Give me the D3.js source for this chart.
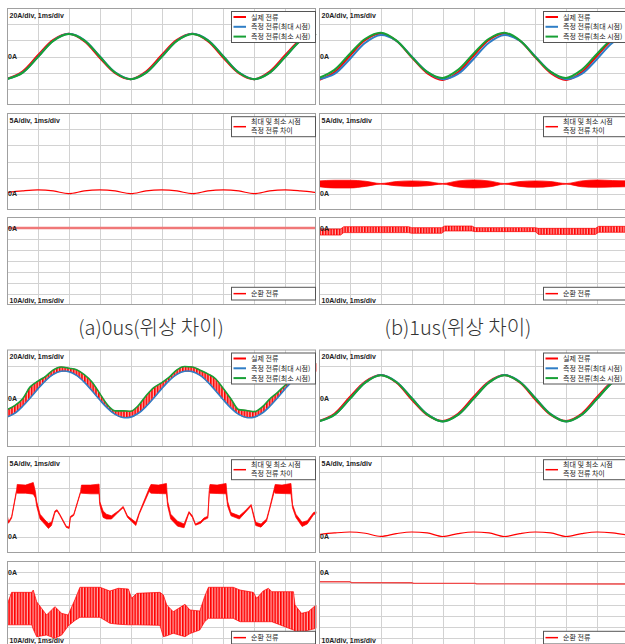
<!DOCTYPE html>
<html>
<head>
<meta charset="utf-8">
<script src="https://cdn.jsdelivr.net/npm/d3@7"></script>
<style>
body { margin: 0; background: #fff; }
svg { display: block; }
.grid line { stroke: #d2d2d2; stroke-width: 1; shape-rendering: crispEdges; }
.grid path { display: none; }
.lab { font-family: "Liberation Sans", Arial, sans-serif; font-weight: bold; font-size: 7px; fill: #222; }
.leg { font-family: "Noto Sans CJK KR", sans-serif; font-size: 7px; fill: #222; }
.cap { font-family: "Noto Sans CJK KR", sans-serif; font-size: 20px; font-weight: 300; fill: #333; }
</style>
</head>
<body>
<svg id="chart" width="625" height="644"></svg>
<script>
// ---- labels ----
var legendTop = ["실제 전류", "측정 전류(최대 시점)", "측정 전류(최소 시점)"];
var legendMid = ["최대 및 최소 시점", "측정 전류 차이"];
var legendBot = ["순환 전류"];
var scaleLabels = ["20A/div, 1ms/div", "5A/div, 1ms/div", "10A/div, 1ms/div"];
var captions = ["(a)0us(위상 차이)", "(b)1us(위상 차이)"];

// ---- time axes (ms) ----
var tHalf = [0, 0.5, 1, 1.5, 2, 2.5, 3, 3.5, 4, 4.5, 5, 5.5, 6, 6.5, 7, 7.5, 8, 8.5, 9, 9.5, 10];
var tQuarter = [0, 0.25, 0.5, 0.75, 1, 1.25, 1.5, 1.75, 2, 2.25, 2.5, 2.75, 3, 3.25, 3.5, 3.75, 4,
  4.25, 4.5, 4.75, 5, 5.25, 5.5, 5.75, 6, 6.25, 6.5, 6.75, 7, 7.25, 7.5, 7.75, 8,
  8.25, 8.5, 8.75, 9, 9.25, 9.5, 9.75, 10];

// ---- (a) 0us ----
var aTopRed   = [-27.5, -18.5, 1.5, 20.5, 28, 19, -1.5, -20.5, -28, -18.5, 1.5, 20.5, 28, 19, -1.5, -20.5, -28, -18.5, 1.5, 20.5, 28];
var aTopBlue  = [-28, -20, -0.5, 19.5, 28, 20.3, 0.3, -19.5, -28, -20, -0.5, 19.5, 28, 20.3, 0.3, -19.5, -28, -20, -0.5, 19.5, 28];
var aTopGreen = [-28, -20.2, -0.8, 19.3, 27.8, 20, 0, -19.8, -28, -20.2, -0.8, 19.3, 27.8, 20, 0, -19.8, -28, -20.2, -0.8, 19.3, 27.8];
var aMid      = [0.4, 0.9, 1.2, 0.9, 0.05, 0.9, 1.2, 0.9, 0.05, 0.9, 1.2, 0.9, 0.05, 0.9, 1.2, 0.9, 0.05, 0.9, 1.2, 0.9, 0.4];
var aBotT = [0, 10];
var aBot  = [0, 0];

// ---- (b) 1us ----
var bTopRed   = [-29, -19.5, 1, 20.5, 28.3, 19.5, -1, -20.5, -29, -19.5, 1, 20.5, 28.3, 19.5, -1, -20.5, -29, -19.5, 1, 20.5, 28.3];
var bTopBlue  = [-28, -21.5, -3, 17, 26.5, 19.5, 0, -19, -28, -21.5, -3, 17, 26.5, 19.5, 0, -19, -28, -21.5, -3, 17, 26.5];
var bTopGreen = [-26.5, -16.5, 3.5, 22, 29.5, 20, -0.5, -19, -26.5, -16.5, 3.5, 22, 29.5, 20, -0.5, -19, -26.5, -16.5, 3.5, 22, 29.5];
var bMidHi = [4.0, 4.2, 4.2, 3.9, 3.2, 3.8, 4.0, 3.8, 3.2, 4.0, 4.3, 4.0, 3.2, 3.8, 4.0, 3.8, 3.2, 4.0, 4.3, 4.1, 4.0];
var bMidLo = [2.2, 1.8, 1.8, 2.3, 3.0, 2.5, 2.3, 2.5, 3.0, 2.1, 1.8, 2.1, 3.0, 2.3, 2.0, 2.3, 3.0, 2.2, 2.0, 2.1, 2.2];
var bBotT  = [0, 0.7, 0.8, 2.9, 3.0, 3.97, 4.07, 4.95, 5.05, 7.0, 7.1, 8.95, 9.05, 10];
var bBotHi = [-0.9, -0.9, 1.2, 1.2, 0.3, 0.3, 1.8, 1.8, 0.3, 0.3, -0.3, -0.3, 1.5, 1.5];
var bBotLo = [-6.4, -6.4, -4.2, -4.2, -4.8, -4.8, -2.7, -2.7, -3.3, -3.3, -5.8, -5.8, -3.9, -3.9];

// ---- (c) ----
var cTopBlue  = [-23.2, -18.5, -10.2, 0.3, 11.5, 21.7, 29.4, 33.2, 32.8, 28.1, 19.8, 9.3, -1.9, -12.1, -19.8, -23.6,
  -23.2, -18.5, -10.2, 0.3, 11.5, 21.7, 29.4, 33.2, 32.8, 28.1, 19.8, 9.3, -1.9, -12.1, -19.8, -23.6,
  -23.2, -18.5, -10.2, 0.3, 11.5, 21.7, 29.4, 33.2, 32.8];
var cTopGreen = [-14, -9, -1, 14, 21, 27, 35, 38.5, 37, 35, 29, 20, 6, -8, -15.5, -15.5,
  -16, -9, 3, 13, 19, 26, 35, 39, 38.5, 34.5, 30, 24, 12, -1, -14, -15,
  -16.5, -11, -1, 7, 16, 24, 31, 38, 43];
var cMidT  = [0, 0.05, 0.15, 0.31, 0.33, 0.6, 0.85, 0.92, 0.96, 1.07, 1.23, 1.34, 1.44, 1.55, 1.62, 1.71, 1.92, 2.01, 2.05, 2.16,
  2.38, 2.41, 2.7, 2.98, 3.0, 3.11, 3.22, 3.38, 3.6, 3.76, 3.9, 4.17, 4.28, 4.6, 4.66, 4.9, 5.16, 5.2, 5.3, 5.52,
  5.73, 5.89, 6.0, 6.1, 6.27, 6.37, 6.5, 6.55, 6.57, 6.8, 7.09, 7.14, 7.25, 7.52, 7.7, 7.9, 8.05, 8.22, 8.4, 8.5,
  8.65, 8.68, 8.9, 9.19, 9.24, 9.35, 9.55, 9.72, 9.92, 10];
var cMidHi = [7, 4.7, 6.3, 14.5, 16.2, 16, 16.8, 14, 11, 7, 5.2, 4.2, 4.5, 8, 8.4, 7, 3.3, 3, 6.3, 7,
  14, 16, 16, 16.3, 11, 8, 7, 6.5, 8, 9.4, 6.5, 4.5, 7.5, 15, 16.2, 16, 16.5, 11, 7, 4.8,
  4, 7.8, 6.5, 4, 4.8, 5.8, 6.4, 15, 16.2, 16, 16.5, 11, 7.5, 6.5, 8, 10, 4.5, 4, 5.5, 9,
  15, 16.2, 16, 16.5, 10, 7, 4.5, 5, 7.5, 7.8];
var cMidLo = [6, 4.2, 5.8, 14, 13.5, 13.5, 13.2, 12, 9.5, 5.5, 3.8, 2.6, 3.5, 7.5, 8, 6.6, 2.9, 2.6, 5.9, 6.6,
  13.6, 13.5, 13.3, 13.3, 10, 6, 5.5, 5.5, 7.6, 9, 6, 3.5, 7, 14, 13.5, 13.4, 13.3, 9.5, 5.5, 3.3,
  2.8, 7.4, 6, 3.6, 4.2, 5.2, 5.8, 14, 13.5, 13.4, 13.3, 9.5, 6.5, 5.5, 7.4, 9.5, 3.5, 3, 4.8, 8.5,
  14, 13.5, 13.4, 13.3, 9, 6, 3.2, 4, 6.8, 7.2];
var cBotT  = [0, 0.15, 0.8, 0.85, 0.96, 1.28, 1.55, 1.77, 1.98, 2.2, 2.36, 3.01, 3.33, 3.6, 3.93, 4.03, 4.2, 4.95, 5.06,
  5.17, 5.38, 5.76, 5.92, 6.24, 6.4, 6.52, 7.32, 7.54, 7.97, 8.08, 8.29, 8.46, 8.57, 9.27, 9.32, 9.53, 9.75, 10];
var cBotHi = [-30, -18.5, -18.5, -16.4, -27, -39.1, -31.5, -37.6, -39.1, -25, -13.9, -13.9, -17.3, -14.8, -15.5, -23.9, -19.4, -18.5, -20.9,
  -30, -36.1, -29.4, -34.5, -35.5, -22, -13.9, -13.9, -16.4, -18.5, -23.9, -17.3, -14.8, -17.9, -17.9, -30, -37.6, -36.1, -30];
var cBotLo = [-48, -48, -48, -52, -58.8, -57.3, -60.3, -57.3, -49, -44, -41.2, -41.2, -46.6, -47.5, -48, -48, -48, -48.5, -58.8,
  -58, -55.7, -58.8, -56, -52.7, -45, -42.1, -42.1, -45.2, -45.2, -45.2, -45.2, -45.2, -45.2, -52.7, -54, -55.7, -53, -51.2];

// ---- (d) ----
var dTopRed   = [-28, -19, 1.5, 20.5, 28.5, 19.5, -1.5, -20.5, -28, -19, 1.5, 20.5, 28.5, 19.5, -1.5, -20.5, -28, -19, 1.5, 20.5, 28.5];
var dTopBlue  = [-28.5, -20.3, -0.5, 19.5, 28.5, 20.3, 0.3, -19.5, -28.5, -20.3, -0.5, 19.5, 28.5, 20.3, 0.3, -19.5, -28.5, -20.3, -0.5, 19.5, 28.5];
var dTopGreen = [-28.5, -20.5, -0.8, 19.3, 28.3, 20, 0, -19.8, -28.5, -20.5, -0.8, 19.3, 28.3, 20, 0, -19.8, -28.5, -20.5, -0.8, 19.3, 28.3];
var dMid      = [0.7, 1.2, 1.5, 1.1, 0.15, 1.0, 1.5, 1.2, 0.1, 1.0, 1.5, 1.2, 0.1, 1.0, 1.5, 1.2, 0.1, 1.0, 1.5, 1.2, 0.5];
var dBotT = [0, 1.0, 1.05, 3.0, 3.05, 5.05, 5.1, 10];
var dBot  = [-8.8, -8.9, -9.7, -9.8, -10.2, -10.3, -10.8, -10.9];

// colours
var RED = "#ff0000", BLUE = "#2f7ec6", GREEN = "#17a035";

// ---- layout ----
var W = 625, H = 644;
var COLS = [{x0: 7, x1: 316}, {x0: 319, x1: 628}];
var ROWS = [
  {top: [8, 105], mid: [113, 210], bot: [217, 305]},
  {top: [349.5, 447], mid: [456, 553], bot: [561, 649]}
];

var svg = d3.select("#chart");
var defs = svg.append("defs");
var pat = defs.append("pattern").attr("id", "hatch")
  .attr("patternUnits", "userSpaceOnUse").attr("width", 2.8).attr("height", 10);
pat.append("rect").attr("width", 2.8).attr("height", 10).attr("fill", "#ffabab");
pat.append("rect").attr("width", 1.6).attr("height", 10).attr("fill", RED);

var clipN = 0;
function makePlot(col, yr, yDom, nY) {
  var y0 = yr[0], y1 = yr[1];
  var x = d3.scaleLinear().domain([0, 10]).range([col.x0, col.x1]);
  var y = d3.scaleLinear().domain(yDom).range([y1, y0]);
  var step = (yDom[1] - yDom[0]) / nY;
  var yt = d3.range(1, nY).map(function(i) { return yDom[0] + i * step; });
  svg.append("g").attr("class", "grid").attr("transform", "translate(" + col.x0 + ",0)")
    .call(d3.axisLeft(y).tickValues(yt).tickSize(-(col.x1 - col.x0)).tickFormat(""));
  svg.append("g").attr("class", "grid").attr("transform", "translate(0," + y1 + ")")
    .call(d3.axisBottom(x).tickValues(d3.range(1, 10)).tickSize(-(y1 - y0)).tickFormat(""));
  var id = "clip" + (clipN++);
  defs.append("clipPath").attr("id", id).append("rect")
    .attr("x", col.x0).attr("y", y0).attr("width", col.x1 - col.x0 + 2).attr("height", y1 - y0);
  var layer = svg.append("g").attr("clip-path", "url(#" + id + ")");
  return {x: x, y: y, layer: layer, x0: col.x0, x1: col.x1, y0: y0, y1: y1};
}

function frame(p) {
  svg.append("rect").attr("x", p.x0 + 0.5).attr("y", p.y0 + 0.5)
    .attr("width", p.x1 - p.x0 - 1).attr("height", p.y1 - p.y0 - 1)
    .attr("fill", "none").attr("stroke", "#a0a0a0").attr("stroke-width", 1);
}

function trace(p, ts, vs, color, w, curve) {
  p.layer.append("path")
    .datum(ts.map(function(t, i) { return [t, vs[i]]; }))
    .attr("d", d3.line().x(function(d) { return p.x(d[0]); }).y(function(d) { return p.y(d[1]); })
      .curve(curve || d3.curveLinear))
    .attr("fill", "none").attr("stroke", color).attr("stroke-width", w)
    .attr("stroke-linejoin", "round");
}

function band(p, ts, hi, lo, fill, curve) {
  p.layer.append("path")
    .datum(ts.map(function(t, i) { return [t, hi[i], lo[i]]; }))
    .attr("d", d3.area().x(function(d) { return p.x(d[0]); })
      .y0(function(d) { return p.y(d[2]); }).y1(function(d) { return p.y(d[1]); })
      .curve(curve || d3.curveLinear))
    .attr("fill", fill).attr("stroke", RED).attr("stroke-width", 0.7);
}

function labels(p, kind) {
  var g = svg.append("g");
  if (kind === 2) {
    // keep the lower label inside the picture
    g.append("text").attr("class", "lab").attr("x", p.x0 + 2.5)
      .attr("y", Math.min(p.y1 - 2.5, H - 1.5)).text(scaleLabels[2]);
  } else {
    g.append("text").attr("class", "lab").attr("x", p.x0 + 2.5).attr("y", p.y0 + 9.5).text(scaleLabels[kind]);
  }
  g.append("text").attr("class", "lab").attr("x", p.x0 + 1).attr("y", p.y(0) + 2.5).text("0A");
}

function legend(p, kind) {
  var g = svg.append("g");
  var bx = p.x0 + 224, by, bh;
  if (kind === 0) { by = p.y0 + 3.5; bh = 31; }
  else if (kind === 1) { by = p.y0 + 3.7; bh = 20; }
  else { by = p.y1 - 17.7; bh = 12.7; }
  g.append("rect").attr("x", bx + 0.5).attr("y", by).attr("width", p.x1 - bx - 1).attr("height", bh)
    .attr("fill", "#fff").attr("stroke", "#555").attr("stroke-width", 1);
  if (kind === 0) {
    [RED, BLUE, GREEN].forEach(function(c, i) {
      var yy = by + 5.5 + i * 9.8;
      g.append("line").attr("x1", bx + 2.5).attr("x2", bx + 15).attr("y1", yy).attr("y2", yy)
        .attr("stroke", c).attr("stroke-width", 2);
      g.append("text").attr("class", "leg").attr("x", bx + 20).attr("y", yy + 2.5).text(legendTop[i]);
    });
  } else if (kind === 1) {
    var ym = by + bh / 2;
    g.append("line").attr("x1", bx + 2.5).attr("x2", bx + 15).attr("y1", ym).attr("y2", ym)
      .attr("stroke", RED).attr("stroke-width", 1.5);
    legendMid.forEach(function(s, i) {
      g.append("text").attr("class", "leg").attr("x", bx + 20).attr("y", by + 7.5 + i * 9).text(s);
    });
  } else {
    var yb = by + bh / 2;
    g.append("line").attr("x1", bx + 2.5).attr("x2", bx + 15).attr("y1", yb).attr("y2", yb)
      .attr("stroke", RED).attr("stroke-width", 1.5);
    g.append("text").attr("class", "leg").attr("x", bx + 20).attr("y", yb + 2.5).text(legendBot[0]);
  }
}

// build the four panels
var panels = [
  {col: 0, row: 0, id: "a"}, {col: 1, row: 0, id: "b"},
  {col: 0, row: 1, id: "c"}, {col: 1, row: 1, id: "d"}
];

panels.forEach(function(pn) {
  var col = COLS[pn.col], row = ROWS[pn.row];
  var pt = makePlot(col, row.top, [-60, 60], 6);
  var pm = makePlot(col, row.mid, [-5, 25], 6);
  var pb = makePlot(col, row.bot, [-70, 10], 8);
  var cr = d3.curveCatmullRom, mx = d3.curveMonotoneX;

  if (pn.id === "a") {
    trace(pt, tHalf, aTopRed, RED, 2, cr);
    trace(pt, tHalf, aTopBlue, BLUE, 2, cr);
    trace(pt, tHalf, aTopGreen, GREEN, 2, cr);
    trace(pm, tHalf, aMid, RED, 1.2, mx);
    trace(pb, aBotT, aBot, "#f07878", 2.6);
  } else if (pn.id === "b") {
    trace(pt, tHalf, bTopRed, RED, 2, cr);
    trace(pt, tHalf, bTopBlue, BLUE, 2, cr);
    trace(pt, tHalf, bTopGreen, GREEN, 2, cr);
    band(pm, tHalf, bMidHi, bMidLo, RED, mx);
    band(pb, bBotT, bBotHi, bBotLo, "url(#hatch)");
  } else if (pn.id === "c") {
    band(pt, tQuarter, cTopGreen, cTopBlue, "url(#hatch)", mx);
    trace(pt, tQuarter, cTopBlue, BLUE, 1.6, cr);
    trace(pt, tQuarter, cTopGreen, GREEN, 1.6, mx);
    band(pm, cMidT, cMidHi, cMidLo, RED);
    band(pb, cBotT, cBotHi, cBotLo, "url(#hatch)");
  } else {
    trace(pt, tHalf, dTopRed, RED, 2, cr);
    trace(pt, tHalf, dTopBlue, BLUE, 2, cr);
    trace(pt, tHalf, dTopGreen, GREEN, 2, cr);
    trace(pm, tHalf, dMid, RED, 1.2, mx);
    trace(pb, dBotT, dBot, "#f04a4a", 1.4);
  }

  [pt, pm, pb].forEach(frame);
  labels(pt, 0); labels(pm, 1); labels(pb, 2);
  legend(pt, 0); legend(pm, 1); legend(pb, 2);
});

// captions for the upper pair
svg.append("text").attr("class", "cap").attr("x", 151).attr("y", 335)
  .attr("text-anchor", "middle").text(captions[0]);
svg.append("text").attr("class", "cap").attr("x", 458).attr("y", 335)
  .attr("text-anchor", "middle").text(captions[1]);
</script>
</body>
</html>
